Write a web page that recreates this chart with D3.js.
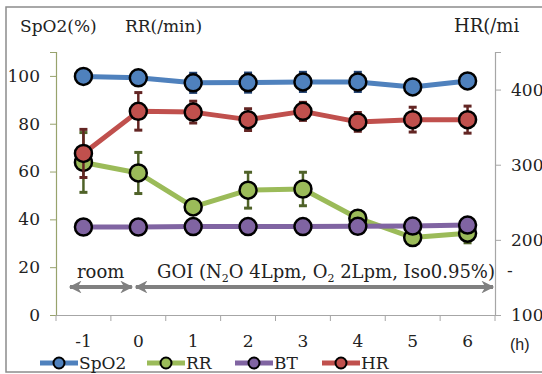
<!DOCTYPE html>
<html>
<head>
<meta charset="utf-8">
<script src="https://cdn.jsdelivr.net/npm/d3@7"></script>
<style>
  body { margin: 0; background: #fff; }
  svg text { font-family: "DejaVu Serif", "Liberation Serif", serif; fill: #222; }
</style>
</head>
<body>
<svg id="chart" width="542" height="374"></svg>
<script>
// time points (h)
const hours = ["-1", "0", "1", "2", "3", "4", "5", "6"];

// left axis series (SpO2 %, RR /min)
const spo2 = [99.8, 99.2, 97.1, 97.2, 97.5, 97.5, 95.4, 97.9];
const spo2Err = [0.5, 0.8, 4, 4, 4, 4, 1, 1];
const rr = [63.8, 59.4, 45.2, 52.2, 52.7, 40.5, 32.4, 34.2];
const rrErr = [12.5, 8.6, 1.5, 7.5, 7, 3, 1.5, 4];
const bt = [36.8, 36.8, 37.0, 37.0, 37.0, 37.1, 37.2, 37.6];
const btErr = [0, 0, 0, 0, 0, 0, 0, 0];

// right axis series (HR /min)
const hr = [315, 371, 370, 360, 371, 357, 360, 360];
const hrErr = [32, 25, 14.5, 14.5, 12, 12.5, 16.5, 18];

const leftTicks = [0, 20, 40, 60, 80, 100];
const rightTicks = [100, 200, 300, 400];

const series = [
  { name: "SpO2", values: spo2, err: spo2Err, axis: "left", color: "#4f81bd", errColor: "#1f3f6e" },
  { name: "RR", values: rr, err: rrErr, axis: "left", color: "#9bbb59", errColor: "#4f6228" },
  { name: "BT", values: bt, err: btErr, axis: "left", color: "#8064a2", errColor: "#3f3151" },
  { name: "HR", values: hr, err: hrErr, axis: "right", color: "#c0504d", errColor: "#632523" },
];

const fontSize = "17px";
const svg = d3.select("#chart");

// outer chart frame
svg.append("rect")
  .attr("x", 6).attr("y", 7)
  .attr("width", 620).attr("height", 365)
  .attr("fill", "none")
  .attr("stroke", "#8c8c8c")
  .attr("stroke-width", 1.5);

const plot = { left: 56, right: 495, top: 52, bottom: 315 };

const x = d3.scaleBand()
  .domain(hours)
  .range([plot.left, plot.right])
  .padding(0);

const yLeft = d3.scaleLinear().domain([0, 110]).range([plot.bottom, plot.top]);
const yRight = d3.scaleLinear().domain([100, 450]).range([plot.bottom, plot.top]);

function styleTicks(g) {
  g.selectAll("text")
    .style("font-family", "DejaVu Serif")
    .style("font-size", fontSize)
    .attr("fill", "#222");
}

// left axis
const leftAxis = svg.append("g")
  .attr("transform", `translate(${plot.left},0)`)
  .call(d3.axisLeft(yLeft).tickValues(leftTicks).tickSize(6).tickPadding(10));
leftAxis.select(".domain").attr("stroke", "#98a36d").attr("stroke-width", 1.2);
leftAxis.selectAll(".tick line").attr("stroke", "#98a36d");
styleTicks(leftAxis);

// right axis
const rightAxis = svg.append("g")
  .attr("transform", `translate(${plot.right},0)`)
  .call(d3.axisRight(yRight).tickValues(rightTicks).tickSize(6).tickPadding(10));
rightAxis.select(".domain").attr("stroke", "#a6a6a6").attr("stroke-width", 1.2);
rightAxis.selectAll(".tick line").attr("stroke", "#a6a6a6");
styleTicks(rightAxis);

// bottom axis: labels centered on categories, tick marks between them
const bottomAxis = svg.append("g")
  .attr("transform", `translate(0,${plot.bottom})`)
  .call(d3.axisBottom(x).tickSize(0).tickPadding(20));
bottomAxis.select(".domain").attr("stroke", "#a6a6a6").attr("stroke-width", 1.2);
styleTicks(bottomAxis);

const boundaries = hours.map((h) => x(h)).concat([x(hours[hours.length - 1]) + x.step()]);
svg.append("g")
  .selectAll("line")
  .data(boundaries)
  .join("line")
  .attr("x1", (d) => d).attr("x2", (d) => d)
  .attr("y1", plot.bottom).attr("y2", plot.bottom + 6)
  .attr("stroke", "#a6a6a6");

svg.append("text")
  .attr("x", 510).attr("y", 350)
  .style("font-family", "Liberation Sans, Arial, sans-serif")
  .style("font-size", "16px")
  .text("(h)");

// axis titles (the HR title is cut off in the original)
svg.append("text").attr("x", 20).attr("y", 32).style("font-size", fontSize).text("SpO2(%)");
svg.append("text").attr("x", 125).attr("y", 32).style("font-size", fontSize).text("RR(/min)");
svg.append("text").attr("x", 454).attr("y", 32).style("font-size", "18px").text("HR(/mi");

// period annotations
svg.append("defs").append("marker")
  .attr("id", "head")
  .attr("viewBox", "0 0 10 10")
  .attr("refX", 9).attr("refY", 5)
  .attr("markerWidth", 3.6).attr("markerHeight", 3.2)
  .attr("markerUnits", "strokeWidth")
  .attr("orient", "auto-start-reverse")
  .append("path")
  .attr("d", "M0,0 L10,5 L0,10 L3,5 Z")
  .attr("fill", "#808080");

const arrowY = 287;
const arrows = [
  { x1: x("-1") + 14, x2: x("0") + 21 },
  { x1: x("0") + 25, x2: plot.right - 2 },
];
svg.append("g")
  .selectAll("line")
  .data(arrows)
  .join("line")
  .attr("x1", (d) => d.x1).attr("x2", (d) => d.x2)
  .attr("y1", arrowY).attr("y2", arrowY)
  .attr("stroke", "#808080")
  .attr("stroke-width", 4)
  .attr("marker-start", "url(#head)")
  .attr("marker-end", "url(#head)");

svg.append("text").attr("x", 77).attr("y", 278).style("font-size", "18px").text("room");

const goi = svg.append("text").attr("x", 157).attr("y", 278).style("font-size", "18px");
goi.append("tspan").text("GOI (N");
goi.append("tspan").attr("dy", 4).style("font-size", "11px").text("2");
goi.append("tspan").attr("dy", -4).text("O 4Lpm, O");
goi.append("tspan").attr("dy", 4).style("font-size", "11px").text("2");
goi.append("tspan").attr("dy", -4).text(" 2Lpm, Iso0.95%)");

svg.append("text").attr("x", 507).attr("y", 276).style("font-size", fontSize).text("-");

// series
series.forEach((s) => {
  const y = s.axis === "left" ? yLeft : yRight;
  const cx = (d, i) => x(hours[i]) + x.bandwidth() / 2;
  const g = svg.append("g");

  const line = d3.line()
    .x((d, i) => cx(d, i))
    .y((d) => y(d));

  g.append("path")
    .datum(s.values)
    .attr("d", line)
    .attr("fill", "none")
    .attr("stroke", s.color)
    .attr("stroke-width", 5)
    .attr("stroke-linejoin", "round");

  const errData = s.values.map((v, i) => ({ v, e: s.err[i], i })).filter((d) => d.e > 0);
  const eg = g.append("g").attr("stroke", s.errColor).attr("stroke-width", 2.5);
  eg.selectAll(".stem")
    .data(errData)
    .join("line")
    .attr("x1", (d) => cx(d, d.i)).attr("x2", (d) => cx(d, d.i))
    .attr("y1", (d) => y(d.v - d.e)).attr("y2", (d) => y(d.v + d.e));
  [-1, 1].forEach((sign) => {
    eg.selectAll(null)
      .data(errData)
      .join("line")
      .attr("x1", (d) => cx(d, d.i) - 4).attr("x2", (d) => cx(d, d.i) + 4)
      .attr("y1", (d) => y(d.v + sign * d.e)).attr("y2", (d) => y(d.v + sign * d.e))
      .attr("stroke-width", 3);
  });

  g.selectAll("circle")
    .data(s.values)
    .join("circle")
    .attr("cx", (d, i) => cx(d, i))
    .attr("cy", (d) => y(d))
    .attr("r", 8.5)
    .attr("fill", s.color)
    .attr("stroke", "#000")
    .attr("stroke-width", 2.5);
});

// legend
const legendX = [40, 147, 235, 322];
const legend = svg.append("g")
  .selectAll("g")
  .data(series)
  .join("g")
  .attr("transform", (d, i) => `translate(${legendX[i]},363)`);
legend.append("line")
  .attr("x1", 0).attr("x2", 38)
  .attr("stroke", (d) => d.color)
  .attr("stroke-width", 5);
legend.append("circle")
  .attr("cx", 19).attr("r", 5.5)
  .attr("fill", (d) => d.color)
  .attr("stroke", "#000")
  .attr("stroke-width", 2);
legend.append("text")
  .attr("x", 39).attr("y", 6)
  .style("font-size", fontSize)
  .text((d) => d.name);
</script>
</body>
</html>
